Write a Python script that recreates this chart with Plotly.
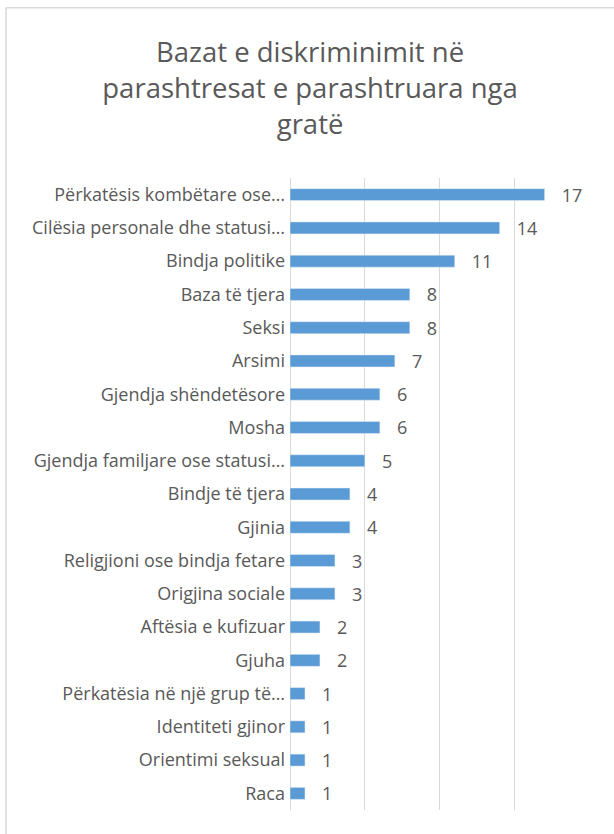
import plotly.graph_objects as go

# Data (top to bottom)
categories = [
    'Përkatësis kombëtare ose…',
    'Cilësia personale dhe statusi…',
    'Bindja politike',
    'Baza të tjera',
    'Seksi',
    'Arsimi',
    'Gjendja shëndetësore',
    'Mosha',
    'Gjendja familjare ose statusi…',
    'Bindje të tjera',
    'Gjinia',
    'Religjioni ose bindja fetare',
    'Origjina sociale',
    'Aftësia e kufizuar',
    'Gjuha',
    'Përkatësia në një grup të…',
    'Identiteti gjinor',
    'Orientimi seksual',
    'Raca',
]
values = [17, 14, 11, 8, 8, 7, 6, 6, 5, 4, 4, 3, 3, 2, 2, 1, 1, 1, 1]

title_text = 'Bazat e diskriminimit në<br>parashtresat e parashtruara nga<br>gratë'

grey_text = '#595959'
grid_col = '#D9D9D9'
font_family = 'Open Sans, Noto Sans, sans-serif'

W, H = 614, 834
L, R, T, B = 290, 24, 177.5, 24

fig = go.Figure()
fig.add_trace(go.Bar(
    x=values, y=categories, orientation='h',
    marker=dict(color='#5B9BD5'),
    texttemplate='\u00a0\u00a0\u00a0%{x}', textposition='outside',
    constraintext='none',
    textfont=dict(size=18, color=grey_text, family=font_family),
    cliponaxis=False, hoverinfo='x+y',
))

fig.update_layout(
    width=W, height=H,
    margin=dict(l=L, r=R, t=T, b=B),
    paper_bgcolor='white', plot_bgcolor='white',
    bargap=0.64,
    showlegend=False,
    font=dict(family=font_family, color=grey_text),
    title=dict(text=title_text, x=0.505, xref='container', xanchor='center',
               y=1 - 62 / H, yref='container', yanchor='middle',
               font=dict(size=27.5, color=grey_text, family=font_family)),
    xaxis=dict(range=[0, 20.03], dtick=5, showgrid=True, gridcolor=grid_col, gridwidth=1,
               zeroline=True, zerolinecolor=grid_col, zerolinewidth=1,
               showticklabels=False, showline=False, fixedrange=True),
    yaxis=dict(autorange='reversed', showgrid=False, showline=False, ticks='',
               tickfont=dict(size=18, color=grey_text), ticklabelstandoff=4),
)

# chart-area border (top and left edges visible in the reference)
pw, ph = W - L - R, H - T - B
fig.add_shape(type='line', xref='paper', yref='paper',
              x0=(6 - L) / pw, x1=(W - L) / pw, y0=(H - B - 7) / ph, y1=(H - B - 7) / ph,
              line=dict(color=grid_col, width=1.5))
fig.add_shape(type='line', xref='paper', yref='paper',
              x0=(6 - L) / pw, x1=(6 - L) / pw, y0=-B / ph, y1=(H - B - 7) / ph,
              line=dict(color=grid_col, width=1.5))

fig.write_html('out.html', config={'displayModeBar': False},
               post_script="document.body.style.margin='0';")
